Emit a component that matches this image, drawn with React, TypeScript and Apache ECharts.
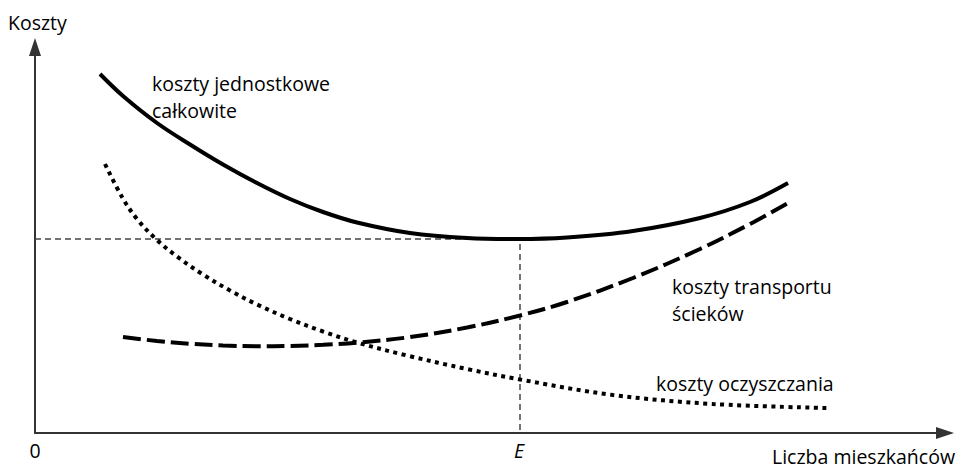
import React, { useEffect, useRef } from "react";
import * as echarts from "echarts";

// Conceptual units: x from 0 (origin) to 910, y from 0 (origin) to 386
const totalX = [65, 88, 122, 155, 188, 222, 255, 288, 322, 375, 432, 482, 532, 598, 665, 715, 753];
const totalY = [359, 337, 310, 288.5, 268.5, 250, 234, 221, 210.5, 200, 195, 194, 195.5, 202, 215, 231, 250];

const transportX = [88, 122, 155, 188, 222, 255, 288, 322, 372, 432, 485, 532, 598, 665, 715, 753];
const transportY = [96, 92, 89.2, 87.5, 86.8, 87, 88.2, 90.3, 95.5, 105.5, 117.5, 131, 155, 184, 209, 230];

const cleaningX = [70, 87, 102, 122, 142, 168, 195, 222, 255, 288, 322, 372, 432, 485, 578, 678, 792];
const cleaningY = [269, 236, 214, 193, 176.5, 158.5, 142.5, 128.5, 114, 101.5, 90.5, 77.5, 64, 53.5, 38, 29, 25];

const optimumX = 485;
const optimumY = 194;

const labels = {
  yAxis: "Koszty",
  xAxis: "Liczba mieszkańców",
  origin: "0",
  optimum: "E",
  total: "koszty jednostkowe\ncałkowite",
  transport: "koszty transportu\nścieków",
  cleaning: "koszty oczyszczania",
};

const zip = (xs: number[], ys: number[]) => xs.map((x, i) => [x, ys[i]]);

const FONT = "Open Sans";
const SIZE = 19.5;

export default function App() {
  const ref = useRef<HTMLDivElement>(null);
  useEffect(() => {
    if (!ref.current) return;
    const chart = echarts.init(ref.current, null, { renderer: "svg" });
    const axisLine = {
      show: true,
      symbol: ["none", "triangle"],
      symbolSize: [12, 18],
      lineStyle: { color: "#333", width: 2 },
    };
    const txt = (x: number, y: number, text: string, extra: any = {}) => ({
      type: "text",
      x,
      y,
      silent: true,
      style: {
        text,
        fill: "#000",
        fontFamily: FONT,
        fontSize: SIZE,
        verticalAlign: "top",
        align: "left",
        lineHeight: 27,
        ...extra,
      },
    });
    chart.setOption({
      animation: false,
      grid: { left: 35, right: 16, top: 47, bottom: 35 },
      xAxis: {
        type: "value",
        min: 0,
        max: 910,
        axisLine,
        axisTick: { show: false },
        axisLabel: { show: false },
        splitLine: { show: false },
      },
      yAxis: {
        type: "value",
        min: 0,
        max: 386,
        axisLine,
        axisTick: { show: false },
        axisLabel: { show: false },
        splitLine: { show: false },
      },
      series: [
        {
          type: "line",
          data: [
            [0, optimumY],
            [optimumX, optimumY],
            [optimumX, 0],
          ],
          showSymbol: false,
          lineStyle: { color: "#444", width: 1.5, type: [6, 4] },
          z: 1,
        },
        {
          type: "line",
          data: zip(totalX, totalY),
          smooth: 0.35,
          showSymbol: false,
          lineStyle: { color: "#000", width: 4 },
          z: 3,
        },
        {
          type: "line",
          data: zip(transportX, transportY),
          smooth: 0.35,
          showSymbol: false,
          lineStyle: { color: "#000", width: 4, type: [18, 6] },
          z: 3,
        },
        {
          type: "line",
          data: zip(cleaningX, cleaningY),
          smooth: 0.35,
          showSymbol: false,
          lineStyle: { color: "#000", width: 4, type: [4, 4.5] },
          z: 3,
        },
      ],
      graphic: [
        txt(8, 12.5, labels.yAxis, { lineHeight: 20 }),
        txt(955, 446, labels.xAxis, { align: "right", lineHeight: 20 }),
        txt(35, 440.5, labels.origin, { align: "center", lineHeight: 20 }),
        txt(519, 440.5, labels.optimum, { align: "center", fontStyle: "italic", lineHeight: 20 }),
        txt(152, 70, labels.total),
        txt(672, 273, labels.transport),
        txt(656, 373.5, labels.cleaning, { lineHeight: 20 }),
      ],
    });
    return () => chart.dispose();
  }, []);
  return <div ref={ref} style={{ width: 961, height: 468, position: "absolute", left: 0, top: 0 }} />;
}
